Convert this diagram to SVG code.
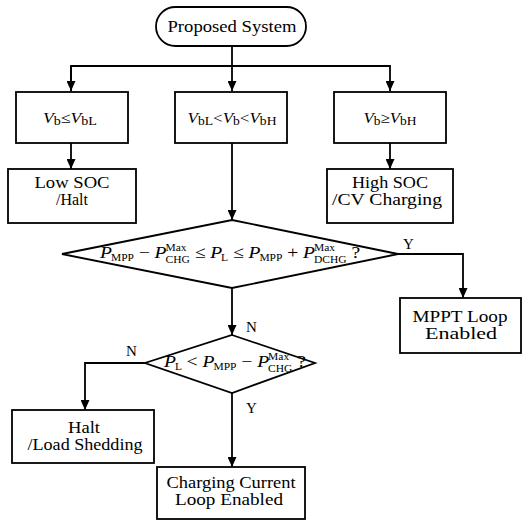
<svg xmlns="http://www.w3.org/2000/svg" width="522" height="520" viewBox="0 0 522 520">
<defs>
<marker id="ah" markerUnits="userSpaceOnUse" markerWidth="10" markerHeight="9" refX="10" refY="4.5" orient="auto">
<path d="M0,0 L10,4.5 L0,9 z" fill="#000"/>
</marker>
<style>
.s{fill:#fff;stroke:#000;stroke-width:1.8}
.c{fill:none;stroke:#000;stroke-width:1.8}
.t{font-family:"Liberation Serif","Times New Roman",serif;font-size:16px;fill:#000}
.m{font-family:"Liberation Serif","Times New Roman",serif;fill:#000;font-size:17px}
.i{font-style:italic}
.sb{font-size:10px}
.lb{font-family:"Liberation Serif","Times New Roman",serif;font-size:15px;fill:#000}
</style>
</defs>
<rect width="522" height="520" fill="#fff"/>

<g id="connectors">
<path class="c" d="M232,46 V91" marker-end="url(#ah)"/>
<path class="c" d="M71,91 V66 H390 V91" marker-end="url(#ah)"/>
<path class="c" d="M71,66 V91" marker-end="url(#ah)"/>
<path class="c" d="M71,143 V169" marker-end="url(#ah)"/>
<path class="c" d="M390,143 V169" marker-end="url(#ah)"/>
<path class="c" d="M232,143 V220" marker-end="url(#ah)"/>
<path class="c" d="M398,254 H463 V298" marker-end="url(#ah)"/>
<path class="c" d="M232,288 V335" marker-end="url(#ah)"/>
<path class="c" d="M145,363 H85 V410" marker-end="url(#ah)"/>
<path class="c" d="M232,393 V467" marker-end="url(#ah)"/>
<text class="lb" x="403" y="249">Y</text>
<text class="lb" x="246" y="332">N</text>
<text class="lb" x="126" y="356">N</text>
<text class="lb" x="246" y="413">Y</text>
</g>

<g id="start">
<rect class="s" x="156" y="7" width="150" height="39" rx="19.5"/>
<text class="t" x="232" y="32" text-anchor="middle" textLength="129" lengthAdjust="spacingAndGlyphs">Proposed System</text>
</g>

<g id="cond1">
<rect class="s" x="16" y="92" width="112" height="51"/>
<text class="m" x="70" y="123" text-anchor="middle" textLength="54" lengthAdjust="spacingAndGlyphs"><tspan class="i" font-size="15">V</tspan><tspan font-size="12" dy="2">b</tspan><tspan font-size="15" dy="-2">≤</tspan><tspan class="i" font-size="15">V</tspan><tspan font-size="12" dy="2">bL</tspan></text>
</g>

<g id="cond2">
<rect class="s" x="175" y="92" width="112" height="51"/>
<text class="m" x="232" y="123" text-anchor="middle" textLength="89" lengthAdjust="spacingAndGlyphs"><tspan class="i" font-size="15">V</tspan><tspan font-size="12" dy="2">bL</tspan><tspan font-size="15" dy="-2">&lt;</tspan><tspan class="i" font-size="15">V</tspan><tspan font-size="12" dy="2">b</tspan><tspan font-size="15" dy="-2">&lt;</tspan><tspan class="i" font-size="15">V</tspan><tspan font-size="12" dy="2">bH</tspan></text>
</g>

<g id="cond3">
<rect class="s" x="334" y="92" width="112" height="51"/>
<text class="m" x="390" y="123" text-anchor="middle" textLength="53" lengthAdjust="spacingAndGlyphs"><tspan class="i" font-size="15">V</tspan><tspan font-size="12" dy="2">b</tspan><tspan font-size="15" dy="-2">≥</tspan><tspan class="i" font-size="15">V</tspan><tspan font-size="12" dy="2">bH</tspan></text>
</g>

<g id="lowsoc">
<rect class="s" x="8" y="169" width="128" height="54"/>
<text class="t" x="72" y="188" text-anchor="middle" textLength="75" lengthAdjust="spacingAndGlyphs">Low SOC</text>
<text class="t" x="72" y="205" text-anchor="middle" textLength="32" lengthAdjust="spacingAndGlyphs">/Halt</text>
</g>

<g id="highsoc">
<rect class="s" x="327" y="169" width="126" height="54"/>
<text class="t" x="390" y="188" text-anchor="middle" textLength="76" lengthAdjust="spacingAndGlyphs">High SOC</text>
<text class="t" x="387" y="205" text-anchor="middle" textLength="110" lengthAdjust="spacingAndGlyphs">/CV Charging</text>
</g>

<g id="decision1">
<polygon class="s" points="232,220 398,254 232,288 62,254"/>
<text class="m" transform="translate(100,258) scale(1.15,1)"><tspan class="i" x="0" y="0">P</tspan><tspan class="sb" x="9.5" y="3">MPP</tspan><tspan x="33.7" y="0">−</tspan><tspan class="i" x="47.5" y="0">P</tspan><tspan class="sb" x="57" y="-7">Max</tspan><tspan class="sb" x="57" y="4.5">CHG</tspan><tspan x="82.3" y="0">≤</tspan><tspan class="i" x="95.8" y="0">P</tspan><tspan class="sb" x="105.3" y="3">L</tspan><tspan x="115.6" y="0">≤</tspan><tspan class="i" x="129.1" y="0">P</tspan><tspan class="sb" x="138.6" y="3">MPP</tspan><tspan x="162.8" y="0">+</tspan><tspan class="i" x="176.6" y="0">P</tspan><tspan class="sb" x="186.1" y="-7">Max</tspan><tspan class="sb" x="186.1" y="4.5">DCHG</tspan><tspan x="218.6" y="0">?</tspan></text>
</g>

<g id="mppt">
<rect class="s" x="400" y="298" width="121" height="55"/>
<text class="t" x="460" y="322" text-anchor="middle" textLength="95" lengthAdjust="spacingAndGlyphs">MPPT Loop</text>
<text class="t" x="461" y="339" text-anchor="middle" textLength="72" lengthAdjust="spacingAndGlyphs">Enabled</text>
</g>

<g id="decision2">
<polygon class="s" points="232,335 315,363 232,393 145,363"/>
<text class="m" transform="translate(164,367) scale(1.15,1)"><tspan class="i" x="0" y="0">P</tspan><tspan class="sb" x="9.5" y="3">L</tspan><tspan x="19.6" y="0">&lt;</tspan><tspan class="i" x="33.4" y="0">P</tspan><tspan class="sb" x="43" y="3">MPP</tspan><tspan x="67.2" y="0">−</tspan><tspan class="i" x="81" y="0">P</tspan><tspan class="sb" x="90.5" y="-7">Max</tspan><tspan class="sb" x="90.5" y="4.5">CHG</tspan><tspan x="115.8" y="0">?</tspan></text>
</g>

<g id="halt">
<rect class="s" x="12" y="410" width="142" height="53"/>
<text class="t" x="84" y="433" text-anchor="middle" textLength="32" lengthAdjust="spacingAndGlyphs">Halt</text>
<text class="t" x="85" y="450" text-anchor="middle" textLength="115" lengthAdjust="spacingAndGlyphs">/Load Shedding</text>
</g>

<g id="charging">
<rect class="s" x="157" y="467" width="148" height="52"/>
<text class="t" x="231" y="488" text-anchor="middle" textLength="129" lengthAdjust="spacingAndGlyphs">Charging Current</text>
<text class="t" x="229" y="505" text-anchor="middle" textLength="108" lengthAdjust="spacingAndGlyphs">Loop Enabled</text>
</g>
</svg>
